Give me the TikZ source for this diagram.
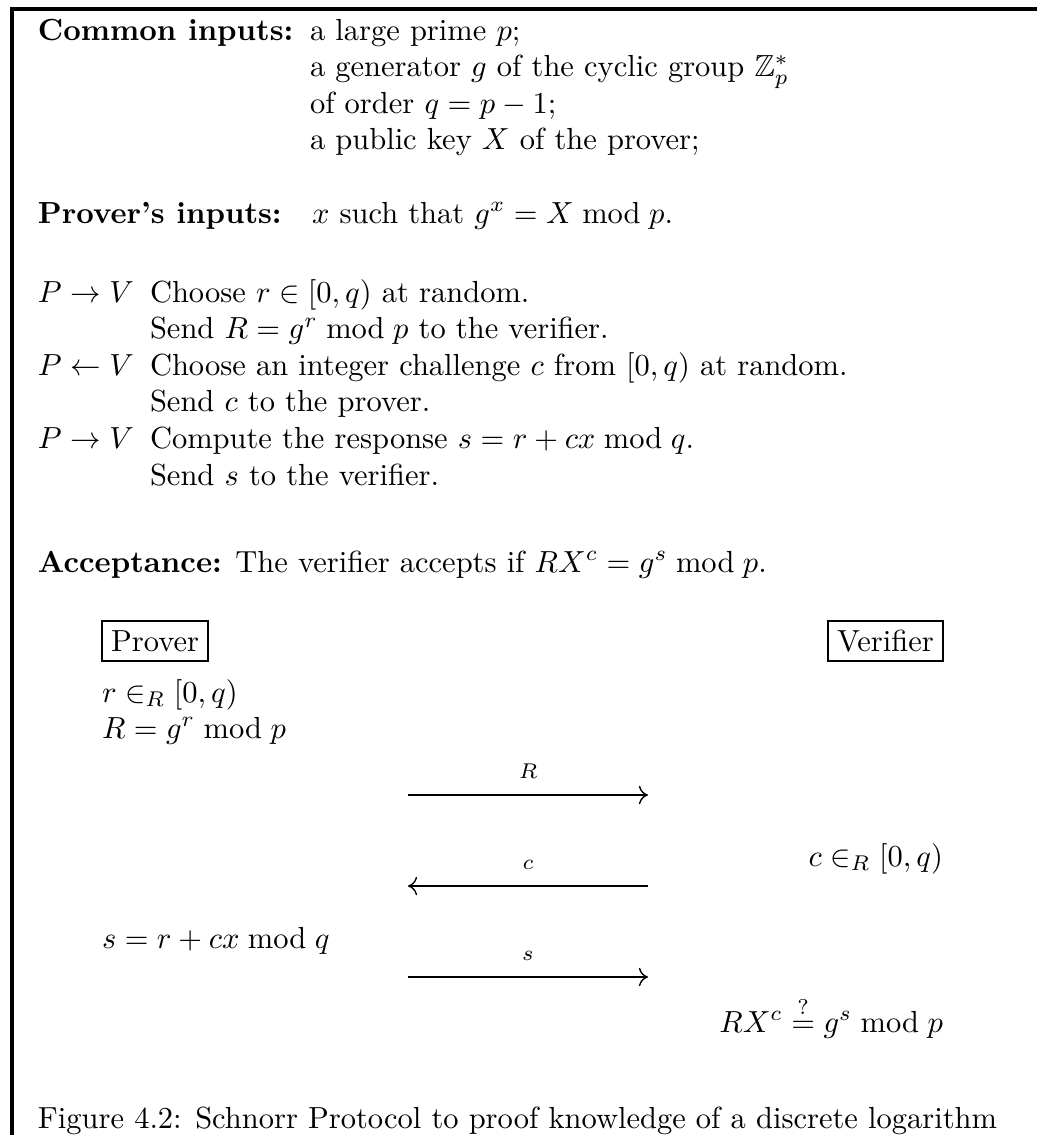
\documentclass[tikz,border=0pt]{standalone}
\usepackage{amsmath,amssymb}
\usetikzlibrary{arrows.meta}
\begin{document}
\begin{tikzpicture}[x=0.32787pt,y=-0.32787pt,
  txt/.style={anchor=base west,inner sep=0pt,outer sep=0pt},
  txtr/.style={anchor=base east,inner sep=0pt,outer sep=0pt},
  party/.style={draw,line width=0.6pt,inner sep=3pt,outer sep=0pt},
  lbl/.style={inner sep=0pt,font=\scriptsize},
  msg/.style={line width=0.45pt,-{Computer Modern Rightarrow[length=3pt,width=6pt]}},
  frame/.style={line width=1pt}]
\useasboundingbox (0,0) rectangle (1037,1135);
\draw[frame] (12,1135) -- (12,9) -- (1037,9);
% header
\node[txt] (common) at (38,40) {\textbf{Common inputs:}};
\node[txt] (ci1) at (310,40) {a large prime $p$;};
\node[txt] (ci2) at (310,76.6) {a generator $g$ of the cyclic group $\mathbb{Z}_p^*$};
\node[txt] (ci3) at (310,113.2) {of order $q=p-1$;};
\node[txt] (ci4) at (310,149.8) {a public key $X$ of the prover;};
\node[txt] (pin) at (38,223) {\textbf{Prover's inputs:}};
\node[txt] (pin1) at (312,223) {$x$ such that $g^x = X \bmod p$.};
% steps
\node[txt] (d1) at (38,302) {$P \rightarrow V$};
\node[txt] (s1a) at (150,302) {Choose $r\in[0,q)$ at random.};
\node[txt] (s1b) at (150,338.6) {Send $R=g^r \bmod p$ to the verifier.};
\node[txt] (d2) at (38,375.2) {$P \leftarrow V$};
\node[txt] (s2a) at (150,375.2) {Choose an integer challenge $c$ from $[0,q)$ at random.};
\node[txt] (s2b) at (150,411.8) {Send $c$ to the prover.};
\node[txt] (d3) at (38,448.4) {$P \rightarrow V$};
\node[txt] (s3a) at (150,448.4) {Compute the response $s=r+cx \bmod q$.};
\node[txt] (s3b) at (150,485) {Send $s$ to the verifier.};
\node[txt] (acc) at (38,572) {\textbf{Acceptance:} The verifier accepts if $RX^c = g^s \bmod p$.};
% protocol
\node[party,anchor=west] (prover) at (102,641) {Prover};
\node[party,anchor=east] (verifier) at (943,641) {Verifier};
\node[txt] (p1) at (102,702) {$r \in_R [0,q)$};
\node[txt] (p2) at (102,738) {$R = g^r \bmod p$};
\node[txtr] (v1) at (943,866) {$c \in_R [0,q)$};
\node[txt] (p3) at (102,948) {$s = r + cx \bmod q$};
\node[txtr] (v2) at (943,1032) {$RX^c \stackrel{?}{=} g^s \bmod p$};
\coordinate (a1l) at (408,795); \coordinate (a1r) at (648,795);
\coordinate (a2l) at (408,886); \coordinate (a2r) at (648,886);
\coordinate (a3l) at (408,977); \coordinate (a3r) at (648,977);
\draw[msg] (a1l) -- node[lbl,above=16pt*0.32787] (lR) {$R$} (a1r);
\draw[msg] (a2r) -- node[lbl,above=16pt*0.32787] (lc) {$c$} (a2l);
\draw[msg] (a3l) -- node[lbl,above=16pt*0.32787] (ls) {$s$} (a3r);
% caption
\node[txt] (cap) at (38,1128) {Figure 4.2: Schnorr Protocol to proof knowledge of a discrete logarithm};
\end{tikzpicture}
\end{document}
